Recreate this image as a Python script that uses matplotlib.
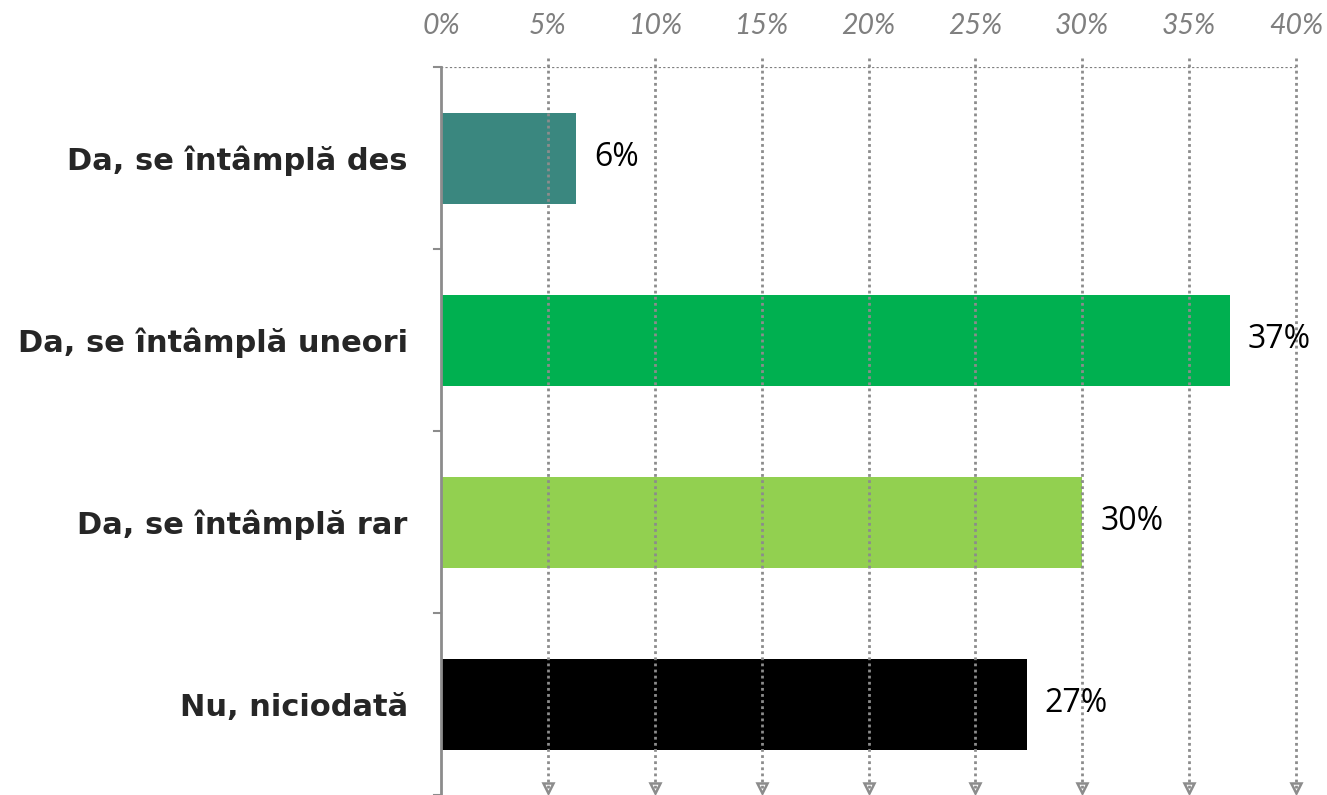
import matplotlib.pyplot as plt
import numpy as np

# dane
kategorie = ["Da, se întâmplă des", "Da, se întâmplă uneori", "Da, se întâmplă rar", "Nu, niciodată"]
wartosci = [6.3, 36.9, 30.0, 27.4]
etykiety = ["6%", "37%", "30%", "27%"]
kolory = ["#3A877F", "#00B050", "#92D050", "#000000"]
ticki_x = [0, 5, 10, 15, 20, 25, 30, 35, 40]

fig = plt.figure(figsize=(13.27, 7.95), dpi=100)
ax = fig.add_axes([441 / 1327, 0.0, (1296 - 441) / 1327, 1 - 67 / 795])

y = np.arange(len(kategorie))
ax.barh(y, wartosci, height=0.5, color=kolory, zorder=1)
ax.set_ylim(len(kategorie) - 0.5, -0.5)
ax.set_xlim(0, 40)

# siatka pionowa - kropkowana ze strzałkami na dole
for t in ticki_x[1:]:
    ax.plot([t, t], [-0.55, 3.47], color="#8c8c8c", lw=2, ls=(0, (1, 1.2)),
            clip_on=False, zorder=2)
    ax.plot(t, 3.46, marker="v", ms=7, mfc="none", mec="#8c8c8c", mew=1.8,
            clip_on=False, zorder=2)
ax.axhline(-0.5, color="#808080", lw=1.6, ls=(0, (1, 1)), zorder=2)

for i, (v, lab) in enumerate(zip(wartosci, etykiety)):
    ax.text(v + 0.85, i, lab, va="center", ha="left", fontsize=23,
            family="Open Sans", zorder=3)

ax.xaxis.tick_top()
ax.set_xticks(ticki_x)
ax.set_xticklabels([f"{t}%" for t in ticki_x], fontsize=20.5, style="italic",
                   color="#7f7f7f", family="Lato")
ax.tick_params(axis="x", length=0, pad=20)

ax.set_yticks(y)
ax.set_yticklabels(kategorie, fontsize=22, fontweight="bold", color="#262626")
ax.tick_params(axis="y", length=0, pad=24)
for b in np.arange(-0.5, len(kategorie), 1):
    ax.plot([-0.35, 0], [b, b], color="#8c8c8c", lw=1.5, clip_on=False)

for s in ["top", "right", "bottom"]:
    ax.spines[s].set_visible(False)
ax.spines["left"].set_color("#8c8c8c")
ax.spines["left"].set_linewidth(2)

fig.savefig("out.png", dpi=100)
